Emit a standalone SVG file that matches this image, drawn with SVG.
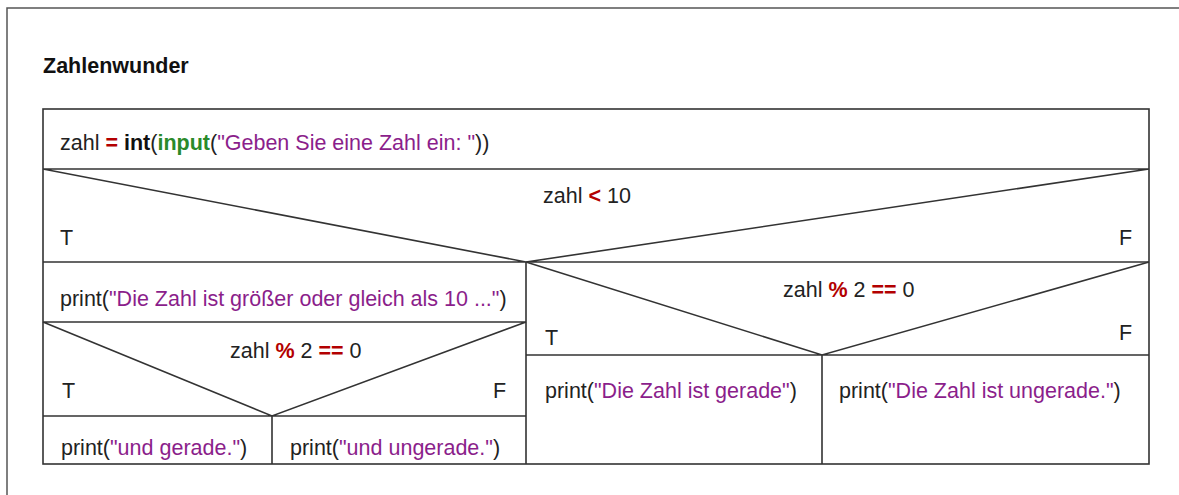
<svg xmlns="http://www.w3.org/2000/svg" width="1179" height="495" viewBox="0 0 1179 495">
<style>
text{font-family:"Liberation Sans",Arial,sans-serif;font-size:21.5px;fill:#222}
.t{font-weight:bold;fill:#111}
.op{font-weight:bold;fill:#b30000}
.fn{font-weight:bold;fill:#111}
.gr{font-weight:bold;fill:#2a8a2a}
.s{fill:#8b1e8b}
.ln{stroke:#333;stroke-width:1.6;fill:none}
.fr{stroke:#555;stroke-width:1.5;fill:none}
</style>
<rect width="1179" height="495" fill="#fff"/>
<path class="fr" d="M7,500 V8 H1185"/>
<g id="title"><text class="t" x="43" y="73">Zahlenwunder</text></g>
<g id="connectors">
<rect class="ln" x="43" y="109" width="1106" height="355"/>
<path class="ln" d="M43,169 H1149 M43,262 H1149 M43,169 L526,262 L1149,169 M526,262 V464"/>
<path class="ln" d="M43,322 H526 M43,322 L272,416 L526,322 M43,416 H526 M272,416 V464"/>
<path class="ln" d="M526,262 L822,355 L1149,262 M526,355 H1149 M822,355 V464"/>
</g>
<g id="assign"><text x="60" y="150">zahl <tspan class="op">=</tspan> <tspan class="fn">int</tspan>(<tspan class="gr">input</tspan>(<tspan class="s">"Geben Sie eine Zahl ein: "</tspan>))</text></g>
<g id="cond1"><text x="543" y="203">zahl <tspan class="op">&lt;</tspan> 10</text><text x="60" y="245">T</text><text x="1119" y="245">F</text></g>
<g id="print1"><text x="60" y="306">print(<tspan class="s">"Die Zahl ist größer oder gleich als 10 ..."</tspan>)</text></g>
<g id="cond2"><text x="230" y="358">zahl <tspan class="op">%</tspan> 2 <tspan class="op">==</tspan> 0</text><text x="62" y="398">T</text><text x="493" y="398">F</text></g>
<g id="print2"><text x="61" y="455">print(<tspan class="s">"und gerade."</tspan>)</text></g>
<g id="print3"><text x="290" y="455">print(<tspan class="s">"und ungerade."</tspan>)</text></g>
<g id="cond3"><text x="783" y="297">zahl <tspan class="op">%</tspan> 2 <tspan class="op">==</tspan> 0</text><text x="545" y="345">T</text><text x="1119" y="340">F</text></g>
<g id="print4"><text x="545" y="398">print(<tspan class="s">"Die Zahl ist gerade"</tspan>)</text></g>
<g id="print5"><text x="839" y="398">print(<tspan class="s">"Die Zahl ist ungerade."</tspan>)</text></g>
</svg>
